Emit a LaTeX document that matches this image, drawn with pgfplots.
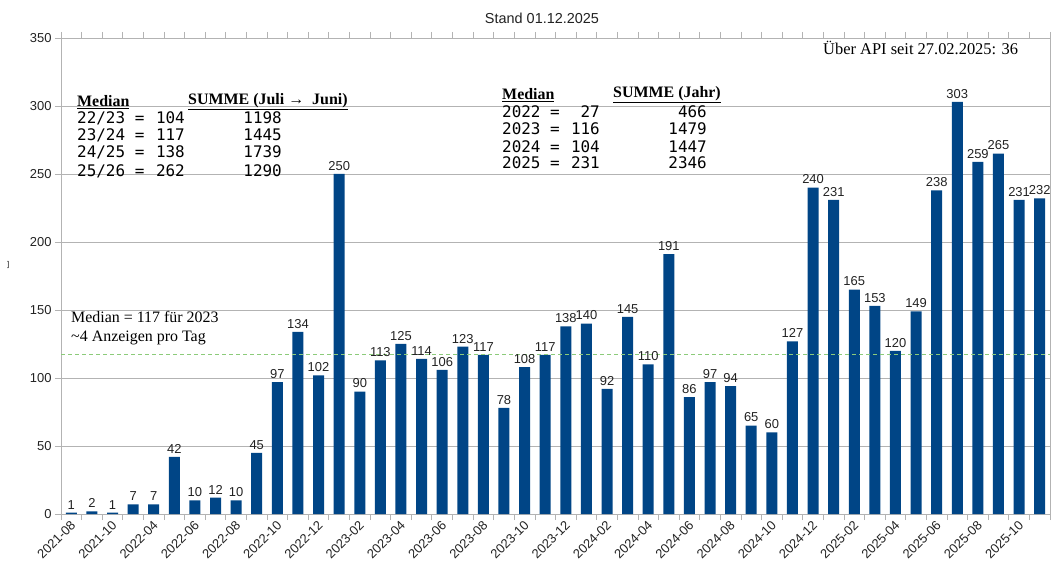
\documentclass[border=0pt]{standalone}
\usepackage{pgfplots}
\pgfplotsset{compat=1.18}
\usepackage{fontspec}
\setmainfont{Liberation Sans}
\newfontfamily\serif{Liberation Serif}
\newfontfamily\mono{DejaVu Sans Mono}
\newfontfamily\djv{DejaVu Sans}
\definecolor{barblue}{HTML}{004586}
\definecolor{gridgray}{HTML}{B3B3B3}
\definecolor{medgreen}{HTML}{8CCB7A}
\definecolor{txt}{HTML}{222222}
\pgfplotstableread{
x y
0 1
1 2
2 1
3 7
4 7
5 42
6 10
7 12
8 10
9 45
10 97
11 134
12 102
13 250
14 90
15 113
16 125
17 114
18 106
19 123
20 117
21 78
22 108
23 117
24 138
25 140
26 92
27 145
28 110
29 191
30 86
31 97
32 94
33 65
34 60
35 127
36 240
37 231
38 165
39 153
40 120
41 149
42 238
43 303
44 259
45 265
46 231
47 232
}\datatable
\begin{document}
\begin{tikzpicture}
\useasboundingbox (0,0) rectangle (1051bp,571bp);
\begin{axis}[
  at={(61bp,57bp)}, anchor=south west, scale only axis,
  width=989bp, height=476bp,
  xmin=-0.5, xmax=47.5, ymin=0, ymax=350,
  ytick={0,50,...,350},
  /pgf/number format/assume math mode=true,
  ymajorgrids, grid style={gridgray, line width=0.8pt},
  axis line style={gridgray, line width=0.8pt},
  tick align=outside, major tick length=6bp, minor tick length=6bp,
  tick style={gridgray, line width=0.8pt},
  xtick={0,2,...,46},
  xticklabels={2021-08,2021-10,2022-04,2022-06,2022-08,2022-10,2022-12,2023-02,2023-04,2023-06,2023-08,2023-10,2023-12,2024-02,2024-04,2024-06,2024-08,2024-10,2024-12,2025-02,2025-04,2025-06,2025-08,2025-10},
  every major x tick/.append style={draw=none},
  minor xtick={-0.5,0.5,...,47.5},
  x tick label style={font=\fontsize{13}{13}\selectfont, text=txt, xshift=2bp, yshift=-3bp, rotate=45, anchor=east, inner sep=0pt},
  y tick label style={font=\fontsize{13}{13}\selectfont, text=txt},
  clip=false,
]
\addplot[ybar, bar width=11bp, fill=barblue, draw=none,
  nodes near coords,
  every node near coord/.append style={font=\fontsize{13}{13}\selectfont, text=txt, /pgf/number format/assume math mode=true}]
  table[x=x, y=y] {\datatable};
\addplot[sharp plot, medgreen, line width=0.8pt, dash pattern=on 4bp off 3bp]
  coordinates {(-0.5,117) (47.5,117)};
\end{axis}
% title
\node[font=\fontsize{14.5}{15}\selectfont, text=txt] at (542bp,553bp) {Stand 01.12.2025};
% tiny y label glyph
\node[font=\djv\fontsize{8}{8}\selectfont, text=txt] at (8bp,306bp) {]};
% API note
\node[font=\serif\fontsize{16.5}{17}\selectfont, anchor=west, inner sep=0pt] at (823bp,523bp) {Über API seit 27.02.2025: 36};
% median note
\node[font=\serif\fontsize{16}{17}\selectfont, anchor=west, inner sep=0pt] at (71bp,254bp) {Median = 117 für 2023};
\node[font=\serif\fontsize{16}{17}\selectfont, anchor=west, inner sep=0pt] at (71bp,233bp) {\textasciitilde 4 Anzeigen pro Tag};
% left block
\node[font=\serif\bfseries\fontsize{16}{17}\selectfont, anchor=west, inner sep=0pt] at (77bp,469bp) {\underline{Median}};
\node[font=\serif\bfseries\fontsize{16}{17}\selectfont, anchor=west, inner sep=0pt] at (188bp,469bp) {\underline{SUMME (Juli → \ Juni)}};
\foreach \yy/\a/\b/\c in {453/22\slash 23/104/1198, 436/23\slash 24/117/1445, 419/24\slash 25/138/1739, 400/25\slash 26/262/1290}{
  \node[font=\mono\fontsize{16}{17}\selectfont, anchor=west, inner sep=0pt] at (77bp,\yy bp) {\a\ =};
  \node[font=\mono\fontsize{16}{17}\selectfont, anchor=east, inner sep=0pt] at (185bp,\yy bp) {\b};
  \node[font=\mono\fontsize{16}{17}\selectfont, anchor=east, inner sep=0pt] at (282bp,\yy bp) {\c};
}
% right block
\node[font=\serif\bfseries\fontsize{16}{17}\selectfont, anchor=west, inner sep=0pt] at (502bp,476bp) {\underline{Median}};
\node[font=\serif\bfseries\fontsize{16}{17}\selectfont, anchor=west, inner sep=0pt] at (613bp,476bp) {\underline{SUMME (Jahr)}};
\foreach \yy/\a/\b/\c in {459/2022/27/466, 442/2023/116/1479, 424/2024/104/1447, 408/2025/231/2346}{
  \node[font=\mono\fontsize{16}{17}\selectfont, anchor=west, inner sep=0pt] at (502bp,\yy bp) {\a\ =};
  \node[font=\mono\fontsize{16}{17}\selectfont, anchor=east, inner sep=0pt] at (600bp,\yy bp) {\b};
  \node[font=\mono\fontsize{16}{17}\selectfont, anchor=east, inner sep=0pt] at (707bp,\yy bp) {\c};
}
\end{tikzpicture}
\end{document}
